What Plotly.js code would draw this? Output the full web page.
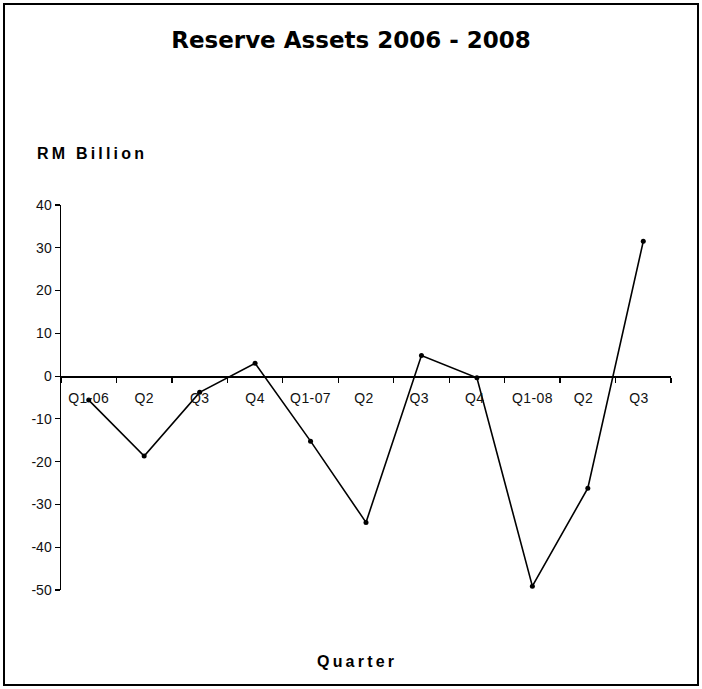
<!DOCTYPE html>
<html>
<head>
<meta charset="utf-8">
<script src="https://cdn.plot.ly/plotly-3.0.1.min.js"></script>
<style>
  html, body { margin: 0; padding: 0; background: #fff; }
  #chart { width: 702px; height: 689px; }
  .annotation-text { letter-spacing: 3.2px; }
  .xtick text { letter-spacing: 0.4px; }
</style>
</head>
<body>
<div id="chart"></div>
<script>
const quarters = ["Q1-06", "Q2", "Q3", "Q4", "Q1-07", "Q2 ", "Q3 ", "Q4 ", "Q1-08", "Q2  ", "Q3  "];
const reserveAssets = [-5.6, -18.7, -3.8, 3.0, -15.2, -34.2, 4.8, -0.4, -49.1, -26.2, 31.5];
const yTicks = [40, 30, 20, 10, 0, -10, -20, -30, -40, -50];
const yRange = [-50, 40];

const W = 702, H = 689;
const mL = 61, mR = 31, mT = 205, mB = 99;
const pw = W - mL - mR, ph = H - mT - mB;
const px = v => (v - mL) / pw;
const py = v => (H - mB - v) / ph;
const zeroPos = (0 - yRange[0]) / (yRange[1] - yRange[0]);

const trace = {
  type: "scatter",
  mode: "lines+markers",
  x: quarters,
  y: reserveAssets,
  line: { color: "#000", width: 1.6 },
  marker: { color: "#000", size: 5, symbol: "circle" },
  cliponaxis: false,
  hoverinfo: "x+y"
};

const layout = {
  width: W, height: H,
  margin: { l: mL, r: mR, t: mT, b: mB },
  paper_bgcolor: "#fff",
  plot_bgcolor: "rgba(0,0,0,0)",
  showlegend: false,
  title: {
    text: "<b>Reserve Assets 2006 - 2008</b>",
    font: { family: "DejaVu Sans", size: 23, color: "#000" },
    x: 0.5, xanchor: "center", y: 1 - 40 / H, yanchor: "middle"
  },
  xaxis: {
    type: "category",
    categoryorder: "array",
    categoryarray: quarters,
    anchor: "free",
    position: zeroPos,
    range: [-0.5, quarters.length - 0.5],
    showline: true, linecolor: "#000", linewidth: 1.5,
    showgrid: false, zeroline: false,
    ticks: "outside", tickson: "boundaries", ticklen: 5, tickwidth: 1.2, tickcolor: "#000",
    ticklabelstandoff: 9,
    tickfont: { family: "Liberation Sans, Arial", size: 14, color: "#111" },
    fixedrange: true
  },
  yaxis: {
    range: yRange,
    tickvals: yTicks,
    ticktext: yTicks.map(String),
    showline: true, linecolor: "#000", linewidth: 1.5,
    showgrid: false, zeroline: false,
    ticks: "outside", ticklen: 5, tickwidth: 1.2, tickcolor: "#000",
    tickfont: { family: "Liberation Sans, Arial", size: 14, color: "#111" },
    fixedrange: true
  },
  annotations: [
    {
      text: "<b>RM Billion</b>", xref: "paper", yref: "paper",
      x: px(35), y: py(153), xanchor: "left", yanchor: "middle",
      showarrow: false,
      font: { family: "Liberation Sans, Arial", size: 16, color: "#000" }
    },
    {
      text: "<b>Quarter</b>", xref: "paper", yref: "paper",
      x: px(357), y: py(661), xanchor: "center", yanchor: "middle",
      showarrow: false,
      font: { family: "Liberation Sans, Arial", size: 16, color: "#000" }
    }
  ],
  shapes: [
    {
      type: "rect", xref: "paper", yref: "paper",
      x0: px(4), x1: px(698), y0: py(685), y1: py(4),
      line: { color: "#000", width: 2 }, fillcolor: "rgba(0,0,0,0)", layer: "below"
    }
  ]
};

Plotly.newPlot("chart", [trace], layout, { displayModeBar: false, staticPlot: true });
</script>
</body>
</html>
